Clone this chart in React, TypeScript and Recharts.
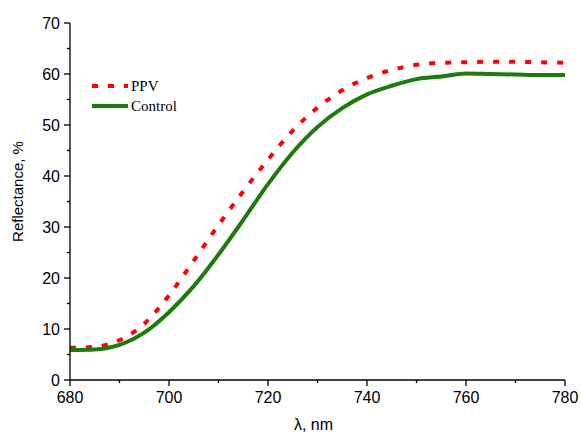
import { LineChart, Line, XAxis, YAxis } from "recharts";

const wavelengths = [680, 685, 690, 695, 700, 705, 710, 715, 720, 725, 730, 735, 740, 745, 750, 755, 760, 765, 770, 775, 780];
const ppv = [6.3, 6.5, 7.8, 11.0, 16.6, 23.4, 30.4, 37.0, 43.2, 48.9, 53.4, 56.8, 59.2, 60.8, 61.8, 62.2, 62.3, 62.4, 62.4, 62.3, 62.2];
const control = [5.9, 6.0, 6.9, 9.3, 13.3, 18.4, 24.6, 31.4, 38.4, 44.6, 49.6, 53.3, 56.0, 57.7, 59.0, 59.5, 60.1, 60.0, 59.9, 59.8, 59.8];

const xTicks = [680, 690, 700, 710, 720, 730, 740, 750, 760, 770, 780];
const xMajor = [680, 700, 720, 740, 760, 780];
const yTicks = [0, 5, 10, 15, 20, 25, 30, 35, 40, 45, 50, 55, 60, 65, 70];
const yMajor = [0, 10, 20, 30, 40, 50, 60, 70];

const data = wavelengths.map((w, i) => ({ w, ppv: ppv[i], control: control[i] }));

const RED = "#ff0000";
const GREEN = "#1d7a0c";
const TICK_FONT = "'Liberation Sans', Arial, sans-serif";
const SERIF = "'Liberation Serif', 'Times New Roman', serif";

function XTick(props: any) {
  const { x, y, payload } = props;
  const ay = y - 8;
  const major = xMajor.includes(payload.value);
  return (
    <g>
      <line x1={x} x2={x} y1={ay} y2={ay + (major ? 6 : 3)} stroke="#000" strokeWidth={1.3} />
      {major && (
        <text x={x} y={ay + 23} textAnchor="middle" fontSize={16} fontFamily={TICK_FONT} fill="#000">
          {payload.value}
        </text>
      )}
    </g>
  );
}

function YTick(props: any) {
  const { x, y, payload } = props;
  const ax = x + 8;
  const major = yMajor.includes(payload.value);
  return (
    <g>
      <line x1={ax - (major ? 6 : 3)} x2={ax} y1={y} y2={y} stroke="#000" strokeWidth={1.3} />
      {major && (
        <text x={ax - 10} y={y + 6} textAnchor="end" fontSize={16} fontFamily={TICK_FONT} fill="#000">
          {payload.value}
        </text>
      )}
    </g>
  );
}

function YLabel(props: any) {
  const { viewBox } = props;
  const cy = viewBox.y + viewBox.height / 2 - 10;
  return (
    <text
      x={23}
      y={cy}
      transform={`rotate(-90 23 ${cy})`}
      textAnchor="middle"
      fontSize={15}
      fontFamily={TICK_FONT}
      fill="#000"
    >
      Reflectance, %
    </text>
  );
}

// legend drawn as an overlay so it doesn't eat plot space
function LegendBox() {
  return (
    <svg width={120} height={45} style={{ position: "absolute", left: 90, top: 76 }}>
      <line x1={2} x2={38} y1={10} y2={10} stroke={RED} strokeWidth={4} strokeDasharray="6 10" />
      <text x={41} y={15} fontSize={15} fontFamily={SERIF} fill="#000">PPV</text>
      <line x1={2} x2={38} y1={30} y2={30} stroke={GREEN} strokeWidth={4} />
      <text x={41} y={35} fontSize={15} fontFamily={SERIF} fill="#000">Control</text>
    </svg>
  );
}

export default function App() {
  return (
    <div style={{ position: "absolute", left: 0, top: 0, width: 581, height: 433, background: "#fff" }}>
      <LineChart width={581} height={433} data={data} margin={{ top: 23, right: 16, bottom: 0, left: 0 }}>
        <XAxis
          dataKey="w"
          type="number"
          domain={[680, 780]}
          ticks={xTicks}
          interval={0}
          tick={<XTick />}
          tickLine={false}
          tickSize={5}
          tickMargin={3}
          height={53}
          axisLine={{ stroke: "#000", strokeWidth: 1.3 }}
          label={{ value: "λ, nm", position: "insideBottom", offset: 3, fontSize: 16, fontFamily: TICK_FONT, fill: "#000", dx: -4 }}
        />
        <YAxis
          type="number"
          domain={[0, 70]}
          ticks={yTicks}
          interval={0}
          tick={<YTick />}
          tickLine={false}
          tickSize={5}
          tickMargin={3}
          width={70}
          axisLine={{ stroke: "#000", strokeWidth: 1.3 }}
          label={<YLabel />}
        />
        <Line type="monotone" dataKey="ppv" stroke={RED} strokeWidth={4} strokeDasharray="6 10" dot={false} isAnimationActive={false} />
        <Line type="monotone" dataKey="control" stroke={GREEN} strokeWidth={4} dot={false} isAnimationActive={false} />
      </LineChart>
      <LegendBox />
    </div>
  );
}
